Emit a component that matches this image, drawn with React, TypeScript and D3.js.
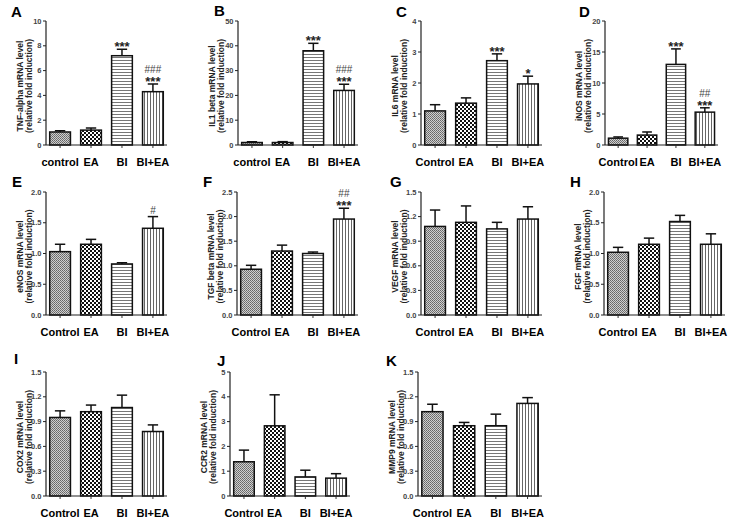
import React from 'react';
import * as d3 from 'd3';

const catsLower = ['control', 'EA', 'BI', 'BI+EA'];
const catsUpper = ['Control', 'EA', 'BI', 'BI+EA'];

const tnfMean = [1.05, 1.2, 7.2, 4.3];
const tnfErr = [0.1, 0.17, 0.52, 0.62];
const tnfTicks = [0, 2, 4, 6, 8, 10];

const il1Mean = [1.0, 1.0, 38, 22];
const il1Err = [0.3, 0.35, 3, 2.5];
const il1Ticks = [0, 10, 20, 30, 40, 50];

const il6Mean = [1.1, 1.35, 2.72, 1.97];
const il6Err = [0.2, 0.17, 0.22, 0.25];
const il6Ticks = [0, 1, 2, 3, 4];

const inosMean = [1.1, 1.6, 13, 5.3];
const inosErr = [0.2, 0.5, 2.5, 0.7];
const inosTicks = [0, 5, 10, 15, 20];

const enosMean = [1.03, 1.15, 0.83, 1.41];
const enosErr = [0.12, 0.08, 0.02, 0.19];
const enosTicks = [0, 0.5, 1.0, 1.5, 2.0];

const tgfMean = [0.93, 1.3, 1.25, 1.95];
const tgfErr = [0.08, 0.12, 0.03, 0.22];
const tgfTicks = [0, 0.5, 1.0, 1.5, 2.0, 2.5];

const vegfMean = [1.08, 1.13, 1.05, 1.17];
const vegfErr = [0.2, 0.2, 0.08, 0.15];
const vegfTicks = [0, 0.3, 0.6, 0.9, 1.2, 1.5];

const fgfMean = [1.02, 1.15, 1.52, 1.15];
const fgfErr = [0.08, 0.1, 0.1, 0.17];
const fgfTicks = [0, 0.5, 1.0, 1.5, 2.0];

const cox2Mean = [0.95, 1.02, 1.07, 0.78];
const cox2Err = [0.08, 0.08, 0.15, 0.08];
const cox2Ticks = [0, 0.3, 0.6, 0.9, 1.2, 1.5];

const ccr2Mean = [1.38, 2.83, 0.77, 0.72];
const ccr2Err = [0.47, 1.25, 0.27, 0.18];
const ccr2Ticks = [0, 1, 2, 3, 4, 5];

const mmp9Mean = [1.02, 0.85, 0.85, 1.12];
const mmp9Err = [0.09, 0.04, 0.14, 0.07];
const mmp9Ticks = [0, 0.3, 0.6, 0.9, 1.2, 1.5];

// significance: [stars, hashes] per category
const tnfSig = [['', ''], ['', ''], ['***', ''], ['***', '###']];
const il1Sig = [['', ''], ['', ''], ['***', ''], ['***', '###']];
const il6Sig = [['', ''], ['', ''], ['***', ''], ['*', '']];
const inosSig = [['', ''], ['', ''], ['***', ''], ['***', '##']];
const enosSig = [['', ''], ['', ''], ['', ''], ['', '#']];
const tgfSig = [['', ''], ['', ''], ['', ''], ['***', '##']];
const noSig = [['', ''], ['', ''], ['', ''], ['', '']];

type Panel = {
  letter: string;
  label: string;
  cats: string[];
  mean: number[];
  err: number[];
  ticks: number[];
  fmt: string;
  sig: string[][];
};

const panels: Panel[] = [
  { letter: 'A', label: 'TNF-alpha mRNA level', cats: catsLower, mean: tnfMean, err: tnfErr, ticks: tnfTicks, fmt: 'd', sig: tnfSig },
  { letter: 'B', label: 'IL1 beta mRNA level', cats: catsLower, mean: il1Mean, err: il1Err, ticks: il1Ticks, fmt: 'd', sig: il1Sig },
  { letter: 'C', label: 'IL6 mRNA level', cats: catsUpper, mean: il6Mean, err: il6Err, ticks: il6Ticks, fmt: 'd', sig: il6Sig },
  { letter: 'D', label: 'iNOS mRNA level', cats: catsUpper, mean: inosMean, err: inosErr, ticks: inosTicks, fmt: 'd', sig: inosSig },
  { letter: 'E', label: 'eNOS mRNA level', cats: catsUpper, mean: enosMean, err: enosErr, ticks: enosTicks, fmt: '.1f', sig: enosSig },
  { letter: 'F', label: 'TGF beta mRNA level', cats: catsUpper, mean: tgfMean, err: tgfErr, ticks: tgfTicks, fmt: '.1f', sig: tgfSig },
  { letter: 'G', label: 'VEGF mRNA level', cats: catsUpper, mean: vegfMean, err: vegfErr, ticks: vegfTicks, fmt: '.1f', sig: noSig },
  { letter: 'H', label: 'FGF mRNA level', cats: catsUpper, mean: fgfMean, err: fgfErr, ticks: fgfTicks, fmt: '.1f', sig: noSig },
  { letter: 'I', label: 'COX2 mRNA level', cats: catsUpper, mean: cox2Mean, err: cox2Err, ticks: cox2Ticks, fmt: '.1f', sig: noSig },
  { letter: 'J', label: 'CCR2 mRNA level', cats: catsUpper, mean: ccr2Mean, err: ccr2Err, ticks: ccr2Ticks, fmt: 'd', sig: noSig },
  { letter: 'K', label: 'MMP9 mRNA level', cats: catsUpper, mean: mmp9Mean, err: mmp9Err, ticks: mmp9Ticks, fmt: '.1f', sig: noSig },
];

// layout per panel: axisX, xEnd, yTop, yBot, letterX, letterY
const layouts = [
  [46, 167, 21, 145, 11, 17],
  [238, 358, 21, 145, 214, 16],
  [421, 542, 21, 145, 396, 17],
  [605, 718, 21, 145, 579, 17],
  [46, 167, 192, 315, 12, 187],
  [237, 358, 192, 315, 203, 187],
  [421, 542, 192, 315, 390, 187],
  [604, 725, 192, 315, 570, 187],
  [46, 167, 372, 496, 14, 364],
  [230, 350, 372, 496, 217, 366],
  [418, 542, 372, 496, 386, 366],
];

const FONT = '"Liberation Sans", Arial, sans-serif';
const patIds = ['patCtrl', 'patEA', 'patBI', 'patBIEA'];

function PanelView({ p, l }: { p: Panel; l: number[] }) {
  const [axisX, xEnd, yTop, yBot, lx, ly] = l;
  const y = d3.scaleLinear().domain([0, p.ticks[p.ticks.length - 1]]).range([yBot, yTop]);
  const x = d3.scaleBand<string>().domain(p.cats).range([axisX, xEnd]).paddingInner(0.33).paddingOuter(0.12);
  const bw = x.bandwidth();
  const fmt = d3.format(p.fmt);
  const midY = (yTop + yBot) / 2 + 3;
  return (
    <g>
      <text x={lx} y={ly} fontSize={15} fontWeight="bold" fontFamily={FONT}>{p.letter}</text>
      <text transform={`translate(${axisX - 23},${midY}) rotate(-90)`} textAnchor="middle" fontSize={8.5} fontWeight="bold" fontFamily={FONT} fill="#222">{p.label}</text>
      <text transform={`translate(${axisX - 14.5},${midY}) rotate(-90)`} textAnchor="middle" fontSize={8.5} fontWeight="bold" fontFamily={FONT} fill="#222">(relative fold induction)</text>
      {p.cats.map((c, i) => {
        const bx = x(c)!;
        const top = y(p.mean[i]);
        const et = y(p.mean[i] + p.err[i]);
        const cx = bx + bw / 2;
        const [stars, hashes] = p.sig[i];
        return (
          <g key={c}>
            <line x1={cx} x2={cx} y1={top} y2={et} stroke="#111" strokeWidth={1.5} />
            <line x1={cx - bw / 4} x2={cx + bw / 4} y1={et} y2={et} stroke="#111" strokeWidth={1.5} />
            <rect x={bx} y={top} width={bw} height={yBot - top} fill={`url(#${patIds[i]})`} stroke="#111" strokeWidth={1.5} />
            <line x1={cx} x2={cx} y1={yBot} y2={yBot + 3} stroke="#333" strokeWidth={1} />
            {stars && (
              <text x={cx} y={et + 2} textAnchor="middle" fontSize={13} fontWeight="bold" fontFamily={FONT} fill="#222">{stars}</text>
            )}
            {hashes && (
              <text x={cx} y={stars ? et - 11 : et - 3} textAnchor="middle" fontSize={10} fontFamily={FONT} fill="#444">{hashes}</text>
            )}
            <text x={cx} y={yBot + 21} textAnchor="middle" fontSize={11} fontWeight="bold" fontFamily={FONT}>{c}</text>
          </g>
        );
      })}
      <line x1={axisX} x2={axisX} y1={yTop} y2={yBot} stroke="#222" strokeWidth={1.2} />
      <line x1={axisX} x2={xEnd} y1={yBot} y2={yBot} stroke="#222" strokeWidth={1.2} />
      {p.ticks.map(t => (
        <g key={t}>
          <line x1={axisX - 3} x2={axisX} y1={y(t)} y2={y(t)} stroke="#222" strokeWidth={1} />
          <text x={axisX - 4.5} y={y(t)} dy="0.35em" textAnchor="end" fontSize={7.5} fontWeight="bold" fontFamily={FONT} fill="#444">{fmt(t)}</text>
        </g>
      ))}
    </g>
  );
}

export default function App() {
  return (
    <svg width={745} height={520} style={{ position: 'absolute', left: 0, top: 0, background: '#fff' }}>
      <defs>
        <pattern id="patCtrl" width={2} height={2} patternUnits="userSpaceOnUse">
          <rect width={2} height={2} fill="#cfcfcf" />
          <rect width={1} height={1} fill="#666" />
          <rect x={1} y={1} width={1} height={1} fill="#777" />
        </pattern>
        <pattern id="patEA" width={4} height={4} patternUnits="userSpaceOnUse">
          <rect width={4} height={4} fill="#fff" />
          <rect width={2} height={2} fill="#111" />
          <rect x={2} y={2} width={2} height={2} fill="#111" />
        </pattern>
        <pattern id="patBI" width={3} height={3} patternUnits="userSpaceOnUse">
          <rect width={3} height={3} fill="#fff" />
          <rect y={0} width={3} height={1} fill="#777" />
        </pattern>
        <pattern id="patBIEA" width={3} height={3} patternUnits="userSpaceOnUse">
          <rect width={3} height={3} fill="#fff" />
          <rect x={0} width={1} height={3} fill="#666" />
        </pattern>
      </defs>
      <rect width={745} height={520} fill="#fff" />
      {panels.map((p, i) => (
        <PanelView key={p.letter} p={p} l={layouts[i]} />
      ))}
    </svg>
  );
}
